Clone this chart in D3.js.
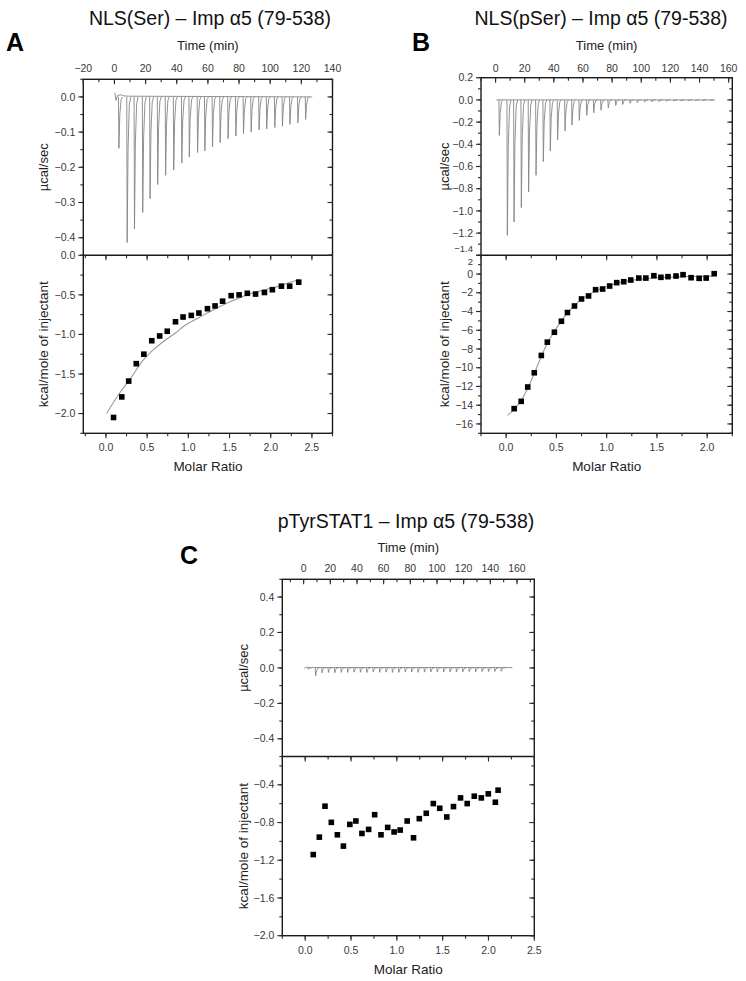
<!DOCTYPE html>
<html><head><meta charset="utf-8">
<script src="https://cdn.jsdelivr.net/npm/d3@7"></script>
<style>
html,body{margin:0;padding:0;background:#fff;}
svg{display:block;font-family:"Liberation Sans",Arial,Helvetica,sans-serif;}
</style></head>
<body><svg id="chart" width="746" height="981"></svg>
<script>
// ---------------- DATA ----------------
// Panel A: NLS(Ser) – Imp α5 (79-538)
const titleA = "NLS(Ser) \u2013 Imp \u03b15 (79-538)";
const injTimeA = [2.6,7.9,12.6,17.9,22.6,27.5,32.6,37.8,43.0,47.8,53.1,57.8,62.7,67.6,72.7,77.7,82.6,87.5,92.6,97.5,102.7,107.6,112.4,117.5,122.5];
const injPeakA = [-0.146,-0.414,-0.375,-0.328,-0.289,-0.249,-0.223,-0.208,-0.188,-0.171,-0.158,-0.153,-0.142,-0.130,-0.118,-0.111,-0.104,-0.100,-0.094,-0.091,-0.087,-0.083,-0.078,-0.074,-0.064];
const baseTimeA = [0.2, 1.0, 2.0, 4.0, 6.0, 9.0, 127.0];
const baseValA  = [0.012, -0.01, 0.004, 0.006, 0.003, 0.002, 0.0];
const ratioA = [0.092,0.192,0.276,0.368,0.46,0.556,0.652,0.744,0.844,0.936,1.036,1.128,1.232,1.324,1.416,1.52,1.616,1.716,1.816,1.924,2.02,2.13,2.23,2.34];
const heatA  = [-2.05,-1.79,-1.59,-1.37,-1.25,-1.08,-1.02,-0.96,-0.84,-0.78,-0.76,-0.73,-0.675,-0.64,-0.58,-0.51,-0.50,-0.48,-0.49,-0.47,-0.435,-0.39,-0.39,-0.34];
const fitRatioA = [0.008,0.168,0.276,0.46,0.556,0.652,0.744,0.848,0.936,1.128,1.328,1.528,1.728,1.928,2.128,2.348];
const fitHeatA  = [-2.0,-1.738,-1.59,-1.316,-1.211,-1.127,-1.055,-0.979,-0.903,-0.789,-0.675,-0.578,-0.494,-0.435,-0.38,-0.304];
const timeTicksA = [-20,0,20,40,60,80,100,120,140];
const rawTicksA  = [0.0,-0.1,-0.2,-0.3,-0.4];
const heatTicksA = [0.0,-0.5,-1.0,-1.5,-2.0];
const ratioTicksA = [0.0,0.5,1.0,1.5,2.0,2.5];

// Panel B: NLS(pSer) – Imp α5 (79-538)
const titleB = "NLS(pSer) \u2013 Imp \u03b15 (79-538)";
const injTimeB = [2.3,7.8,12.4,17.4,22.4,27.5,32.5,37.3,42.3,47.4,52.2,57.2,62.3,67.1,72.1,77.1,82.2,87.0,92.0,97.0,102.0,107.0,112.0,117.0,122.0,127.0,132.0,137.0,142.0,147.0];
const injPeakB = [-0.32,-1.22,-1.10,-0.97,-0.83,-0.68,-0.555,-0.46,-0.36,-0.28,-0.227,-0.185,-0.14,-0.116,-0.093,-0.072,-0.05,-0.042,-0.03,-0.024,-0.02,-0.018,-0.015,-0.013,-0.012,-0.010,-0.010,-0.008,-0.008,-0.006];
const baseTimeB = [0.5, 150.5];
const baseValB  = [0.0, 0.0];
const ratioB = [0.08,0.15,0.215,0.28,0.35,0.41,0.48,0.55,0.61,0.68,0.75,0.82,0.89,0.96,1.03,1.10,1.17,1.24,1.32,1.39,1.47,1.54,1.61,1.69,1.76,1.84,1.92,1.99,2.07];
const heatB  = [-14.37,-13.59,-12.06,-10.54,-8.69,-7.27,-6.21,-5.04,-4.11,-3.41,-2.66,-2.34,-1.67,-1.60,-1.28,-0.92,-0.82,-0.64,-0.43,-0.43,-0.18,-0.35,-0.28,-0.21,-0.07,-0.39,-0.46,-0.43,0.04];
const fitRatioB = [0.013,0.08,0.15,0.215,0.28,0.35,0.41,0.48,0.55,0.61,0.68,0.75,0.82,0.89,0.96,1.03,1.10,1.17,1.25,1.32,1.40,1.50,1.60,1.70,1.80,1.90,2.07];
const fitHeatB  = [-15.08,-14.45,-13.5,-12.2,-10.6,-8.8,-7.4,-6.1,-5.0,-4.15,-3.35,-2.7,-2.2,-1.8,-1.48,-1.2,-0.98,-0.82,-0.68,-0.57,-0.48,-0.40,-0.34,-0.30,-0.27,-0.25,-0.22];
const timeTicksB = [0,20,40,60,80,100,120,140,160];
const rawTicksB  = [0.2,0.0,-0.2,-0.4,-0.6,-0.8,-1.0,-1.2,-1.4];
const heatTicksB = [2,0,-2,-4,-6,-8,-10,-12,-14,-16];
const ratioTicksB = [0.0,0.5,1.0,1.5,2.0];

// Panel C: pTyrSTAT1 – Imp α5 (79-538)
const titleC = "pTyrSTAT1 \u2013 Imp \u03b15 (79-538)";
const injTimeC = [3.0,8.7,13.5,18.3,23.1,27.9,32.7,37.5,42.3,47.1,51.9,56.7,61.5,66.3,71.1,75.9,80.7,85.5,90.3,95.1,99.9,104.7,109.5,114.3,119.1,123.9,128.7,133.5,138.3,143.1,147.9];
const injPeakC = [-0.008,-0.045,-0.028,-0.026,-0.027,-0.025,-0.026,-0.024,-0.025,-0.026,-0.024,-0.025,-0.024,-0.026,-0.025,-0.024,-0.023,-0.025,-0.024,-0.023,-0.024,-0.023,-0.022,-0.023,-0.022,-0.021,-0.022,-0.020,-0.021,-0.020,-0.019];
const baseTimeC = [0.5, 2.0, 5.0, 156.5];
const baseValC  = [-0.002, 0.004, 0.002, 0.002];
const ratioC = [0.088,0.154,0.216,0.285,0.351,0.417,0.487,0.553,0.619,0.692,0.758,0.827,0.90,0.97,1.036,1.113,1.182,1.245,1.321,1.398,1.468,1.545,1.618,1.695,1.768,1.845,1.922,1.998,2.075,2.105];
const heatC  = [-1.14,-0.955,-0.627,-0.798,-0.93,-1.05,-0.82,-0.784,-0.916,-0.873,-0.717,-0.93,-0.852,-0.90,-0.88,-0.784,-0.962,-0.759,-0.702,-0.599,-0.649,-0.741,-0.631,-0.539,-0.599,-0.521,-0.539,-0.496,-0.585,-0.457];
const timeTicksC = [0,20,40,60,80,100,120,140,160];
const rawTicksC  = [0.4,0.2,0.0,-0.2,-0.4];
const heatTicksC = [-0.4,-0.8,-1.2,-1.6,-2.0];
const ratioTicksC = [0.0,0.5,1.0,1.5,2.0,2.5];

const timeLabel = "Time (min)", rawLabel = "\u00b5cal/sec", heatLabel = "kcal/mole of injectant", ratioLabel = "Molar Ratio";

// ---------------- DRAWING ----------------
const svg = d3.select("#chart");
const FONT = "'Liberation Sans', Arial, Helvetica, sans-serif";
const frameColor = "#1a1a1a";
const tickColor = "#2a2a2a";

function fmt(step){ return step >= 1 ? d3.format("d") : d3.format(".1f"); }

function drawPanel(p){
  const g = svg.append("g");
  const x0 = p.x0, x1 = p.x1;
  const xT = d3.scaleLinear().domain(p.timeDom).range([x0, x1]);
  const yR = d3.scaleLinear().domain(p.rawDom).range([p.ySplit, p.yTop]);
  const yH = d3.scaleLinear().domain(p.heatDom).range([p.yBot, p.ySplit]);
  const xM = d3.scaleLinear().domain(p.ratioDom).range([x0, x1]);

  g.append("text").attr("x", p.letterX).attr("y", p.letterY).attr("font-family", FONT)
    .attr("font-weight","bold").attr("font-size", 25).attr("fill","#000").text(p.letter);
  g.append("text").attr("x", p.titleX).attr("y", p.titleY).attr("text-anchor","middle")
    .attr("font-family", FONT).attr("font-size", 19.5).attr("fill","#111").text(p.title);

  const cid = "clip" + p.letter;
  const defs = svg.append("defs");
  defs.append("clipPath").attr("id", cid+"t").append("rect").attr("x",x0).attr("y",p.yTop).attr("width",x1-x0).attr("height",p.ySplit-p.yTop);
  defs.append("clipPath").attr("id", cid+"b").append("rect").attr("x",x0).attr("y",p.ySplit).attr("width",x1-x0).attr("height",p.yBot-p.ySplit);

  const traceG = g.append("g").attr("clip-path", `url(#${cid}t)`);
  const baseLine = d3.line().x(d=>xT(d[0])).y(d=>yR(d[1]));
  traceG.append("path").attr("d", baseLine(d3.zip(p.baseTime, p.baseVal)))
    .attr("fill","none").attr("stroke","#858585").attr("stroke-width",0.9);
  const spikes = d3.zip(p.injTime, p.injPeak);
  traceG.selectAll(null).data(spikes).join("path")
    .attr("d", d => {
      const t = d[0], v = d[1];
      return `M${xT(t)},${yR(0)} L${xT(t)+0.4},${yR(v)} L${xT(t)+1.3},${yR(v*0.35)} L${xT(t)+2.6},${yR(v*0.05)} L${xT(t)+4},${yR(0)}`;
    })
    .attr("fill","none").attr("stroke","#858585").attr("stroke-width",0.9);

  const botG = g.append("g").attr("clip-path", `url(#${cid}b)`);
  if (p.fitRatio){
    const fl = d3.line().x(d=>xM(d[0])).y(d=>yH(d[1])).curve(d3.curveMonotoneX);
    botG.append("path").attr("d", fl(d3.zip(p.fitRatio, p.fitHeat)))
      .attr("fill","none").attr("stroke","#9a9a9a").attr("stroke-width",1.1);
  }
  const s = 5.6;
  botG.selectAll(null).data(d3.zip(p.ratio, p.heat)).join("rect")
    .attr("x", d=>xM(d[0])-s/2).attr("y", d=>yH(d[1])-s/2).attr("width", s).attr("height", s)
    .attr("fill","#000");

  g.append("rect").attr("x",x0).attr("y",p.yTop).attr("width",x1-x0).attr("height",p.yBot-p.yTop)
    .attr("fill","none").attr("stroke",frameColor).attr("stroke-width",1.4);
  g.append("line").attr("x1",x0).attr("x2",x1).attr("y1",p.ySplit).attr("y2",p.ySplit)
    .attr("stroke",frameColor).attr("stroke-width",1.4);

  const tk = g.append("g").attr("stroke", tickColor).attr("stroke-width",1.1);
  function minorsOf(ticks, dom){
    const step = Math.abs(ticks[1]-ticks[0]) / 2;
    const lo = Math.min(dom[0],dom[1]), hi = Math.max(dom[0],dom[1]);
    return d3.range(Math.ceil(lo/step - 1e-9), Math.floor(hi/step + 1e-9) + 1).map(k => k*step);
  }
  function hTicks(scale, vals, y, len){
    tk.selectAll(null).data(vals).join("line")
      .attr("x1", d=>scale(d)).attr("x2", d=>scale(d)).attr("y1", y).attr("y2", y+len);
  }
  function vTicks(scale, vals, x, len){
    tk.selectAll(null).data(vals).join("line")
      .attr("y1", d=>scale(d)).attr("y2", d=>scale(d)).attr("x1", x).attr("x2", x+len);
  }
  const MJ = 5, MN = 3;
  const tMin = minorsOf(p.timeTicks, p.timeDom);
  hTicks(xT, tMin, p.yTop, MN); hTicks(xT, p.timeTicks, p.yTop, MJ);
  const rMin = minorsOf(p.rawTicks, p.rawDom);
  vTicks(yR, rMin, x0, -MN); vTicks(yR, p.rawTicks, x0, -MJ);
  vTicks(yR, rMin, x1, -MN); vTicks(yR, p.rawTicks, x1, -MJ);
  const hMin = minorsOf(p.heatTicks, p.heatDom);
  vTicks(yH, hMin, x0, -MN); vTicks(yH, p.heatTicks, x0, -MJ);
  vTicks(yH, hMin, x1, -MN); vTicks(yH, p.heatTicks, x1, -MJ);
  const mMin = minorsOf(p.ratioTicks, p.ratioDom);
  hTicks(xM, mMin, p.yBot, MN); hTicks(xM, p.ratioTicks, p.yBot, MJ);
  hTicks(xM, mMin, p.ySplit, MN); hTicks(xM, p.ratioTicks, p.ySplit, MJ);

  // labels at the split are nudged apart when both panels label it
  const rawAtSplit = p.rawTicks.some(v => Math.abs(v - p.rawDom[0]) < 1e-9);
  const heatAtSplit = p.heatTicks.some(v => Math.abs(v - p.heatDom[1]) < 1e-9);
  const both = rawAtSplit && heatAtSplit;
  const nudgeR = v => (both && Math.abs(v - p.rawDom[0]) < 1e-9) ? -6.5 : 0;
  const nudgeH = v => (both && Math.abs(v - p.heatDom[1]) < 1e-9) ? 6.5 : 0;

  const lab = g.append("g").attr("font-family", FONT).attr("font-size", 10.5).attr("fill", "#383838");
  lab.selectAll(null).data(p.timeTicks).join("text")
    .attr("x", d=>xT(d)).attr("y", p.yTop - p.timeLabGap).attr("text-anchor","middle").text(d=>d3.format("d")(d));
  lab.selectAll(null).data(p.rawTicks).join("text")
    .attr("x", x0-8).attr("y", d=>yR(d)+nudgeR(d)).attr("dy","0.35em").attr("text-anchor","end")
    .attr("font-size", d => nudgeR(d) ? 9.5 : null).text(d=>d3.format(".1f")(d));
  const hf = fmt(Math.abs(p.heatTicks[1]-p.heatTicks[0]));
  lab.selectAll(null).data(p.heatTicks).join("text")
    .attr("x", x0-8).attr("y", d=>yH(d)+nudgeH(d)).attr("dy","0.35em").attr("text-anchor","end")
    .attr("font-size", d => nudgeH(d) ? 9.5 : null).text(d=>hf(d));
  lab.selectAll(null).data(p.ratioTicks).join("text")
    .attr("x", d=>xM(d)).attr("y", p.yBot+18).attr("text-anchor","middle").text(d=>d3.format(".1f")(d));

  const tl = g.append("g").attr("font-family", FONT).attr("fill","#222");
  tl.append("text").attr("x", (x0+x1)/2).attr("y", p.timeTitleY).attr("text-anchor","middle").attr("font-size",13).text(timeLabel);
  tl.append("text").attr("x", (x0+x1)/2).attr("y", p.yBot+38).attr("text-anchor","middle").attr("font-size",13.5).text(ratioLabel);
  tl.append("text").attr("transform", `translate(${x0-p.yTitleOff},${(p.yTop+p.ySplit)/2}) rotate(-90)`)
    .attr("dy","0.35em").attr("text-anchor","middle").attr("font-size",13).text(rawLabel);
  tl.append("text").attr("transform", `translate(${x0-p.yTitleOff},${(p.ySplit+p.yBot)/2}) rotate(-90)`)
    .attr("dy","0.35em").attr("text-anchor","middle").attr("font-size",13.5).text(heatLabel);
}

drawPanel({letter:"A", title:titleA, letterX:6, letterY:51, titleX:210, titleY:25,
  x0:83.3, x1:332.5, yTop:79.3, ySplit:255.3, yBot:433.3,
  timeDom:[-20,140], rawDom:[-0.45,0.05], heatDom:[-2.25,0], ratioDom:[-0.275,2.75],
  timeLabGap:7, timeTitleY:50, yTitleOff:40,
  injTime:injTimeA, injPeak:injPeakA, baseTime:baseTimeA, baseVal:baseValA,
  ratio:ratioA, heat:heatA, fitRatio:fitRatioA, fitHeat:fitHeatA,
  timeTicks:timeTicksA, rawTicks:rawTicksA, heatTicks:heatTicksA, ratioTicks:ratioTicksA});

drawPanel({letter:"B", title:titleB, letterX:412, letterY:51, titleX:601, titleY:25,
  x0:481, x1:732.3, yTop:77.7, ySplit:255.3, yBot:433.3,
  timeDom:[-10,162.5], rawDom:[-1.4,0.2], heatDom:[-17,2], ratioDom:[-0.25,2.25],
  timeLabGap:6, timeTitleY:50, yTitleOff:37,
  injTime:injTimeB, injPeak:injPeakB, baseTime:baseTimeB, baseVal:baseValB,
  ratio:ratioB, heat:heatB, fitRatio:fitRatioB, fitHeat:fitHeatB,
  timeTicks:timeTicksB, rawTicks:rawTicksB, heatTicks:heatTicksB, ratioTicks:ratioTicksB});

drawPanel({letter:"C", title:titleC, letterX:180, letterY:564, titleX:406, titleY:528,
  x0:282.3, x1:534.3, yTop:579.3, ySplit:756.5, yBot:935.7,
  timeDom:[-16,173], rawDom:[-0.5,0.5], heatDom:[-2.0,-0.1], ratioDom:[-0.25,2.5],
  timeLabGap:7, timeTitleY:552, yTitleOff:39,
  injTime:injTimeC, injPeak:injPeakC, baseTime:baseTimeC, baseVal:baseValC,
  ratio:ratioC, heat:heatC, fitRatio:null, fitHeat:null,
  timeTicks:timeTicksC, rawTicks:rawTicksC, heatTicks:heatTicksC, ratioTicks:ratioTicksC});
</script></body></html>
